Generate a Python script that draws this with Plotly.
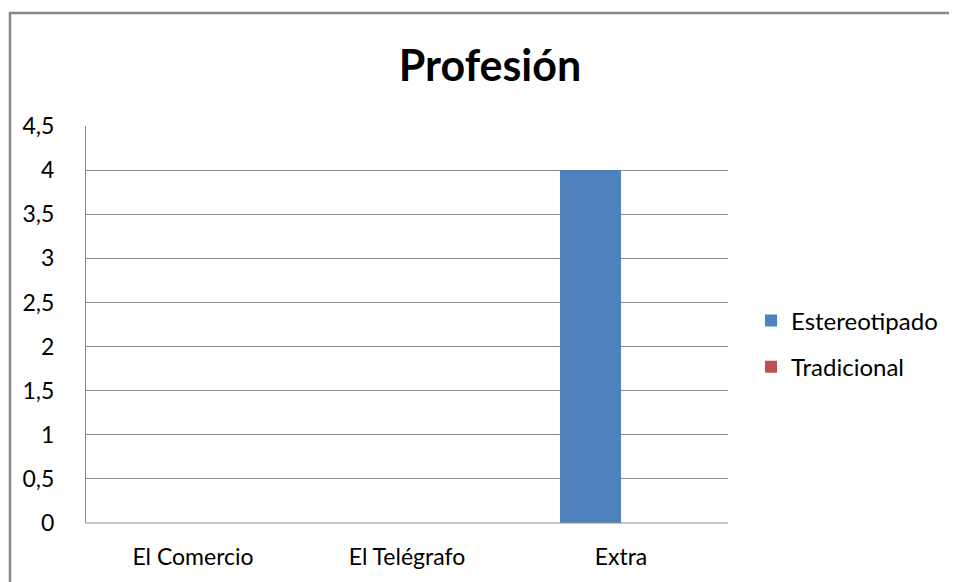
import plotly.graph_objects as go

categories = ["El Comercio", "El Telégrafo", "Extra"]
estereotipado = [0, 0, 4]
tradicional = [0, 0, 0]
series_names = ["Estereotipado", "Tradicional"]
y_ticks = [0, 0.5, 1, 1.5, 2, 2.5, 3, 3.5, 4, 4.5]

# page body has an 8px margin, so figure origin sits at (8, 8) on screen
OFF = 8
W, H = 957 - OFF, 582 - OFF
L, R, T, B = 86 - OFF, 229, 126 - OFF, 59
pw, ph = W - L - R, H - T - B
FONT = "Lato"

fig = go.Figure()
fig.add_trace(go.Bar(x=categories, y=estereotipado, name=series_names[0],
                     marker=dict(color="#4F81BD", line=dict(width=0)),
                     legendgroup="a"))
fig.add_trace(go.Bar(x=categories, y=tradicional, name=series_names[1],
                     marker=dict(color="#C0504D", line=dict(width=0)),
                     legendgroup="b"))

def px_x(p):
    return (p - OFF - L) / pw

def px_y(p):
    return (H - B - (p - OFF)) / ph

fig.update_layout(
    width=W, height=H,
    margin=dict(l=L, r=R, t=T, b=B),
    paper_bgcolor="white", plot_bgcolor="white",
    separators=",.",
    barmode="group", bargap=0.43, bargroupgap=0,
    font=dict(family=FONT, size=24, color="#000000"),
    title=dict(text="<b>Profesión</b>", x=(490 - OFF) / W, xanchor="center",
               y=1 - (66 - OFF) / H, yanchor="middle", yref="container",
               font=dict(family=FONT, size=43, color="#000000")),
    showlegend=True,
    legend=dict(x=px_x(751), xanchor="left", y=px_y(344), yanchor="middle",
                font=dict(family=FONT, size=24, color="#000000"),
                tracegroupgap=12, itemwidth=30, bgcolor="rgba(0,0,0,0)"),
    xaxis=dict(showgrid=False, showline=False, ticks="", zeroline=False,
               tickfont=dict(family=FONT, size=23), ticklabelstandoff=18),
    yaxis=dict(range=[0, 4.5], tickvals=y_ticks, showgrid=True,
               gridcolor="#8C8C8C", gridwidth=1, zeroline=False,
               showline=True, linecolor="#8C8C8C", linewidth=1,
               ticks="", tickfont=dict(family=FONT, size=23),
               ticklabelstandoff=26),
    shapes=[dict(type="rect", xref="paper", yref="paper",
                 x0=px_x(10), x1=px_x(957 + 20), y0=px_y(582 + 20), y1=px_y(13),
                 line=dict(color="#878787", width=2.5), fillcolor="rgba(0,0,0,0)",
                 layer="above"),
            dict(type="line", xref="paper", yref="paper",
                 x0=0, x1=1, y0=0, y1=0,
                 line=dict(color="#8C8C8C", width=1))],
)

fig.write_html("out.html")
